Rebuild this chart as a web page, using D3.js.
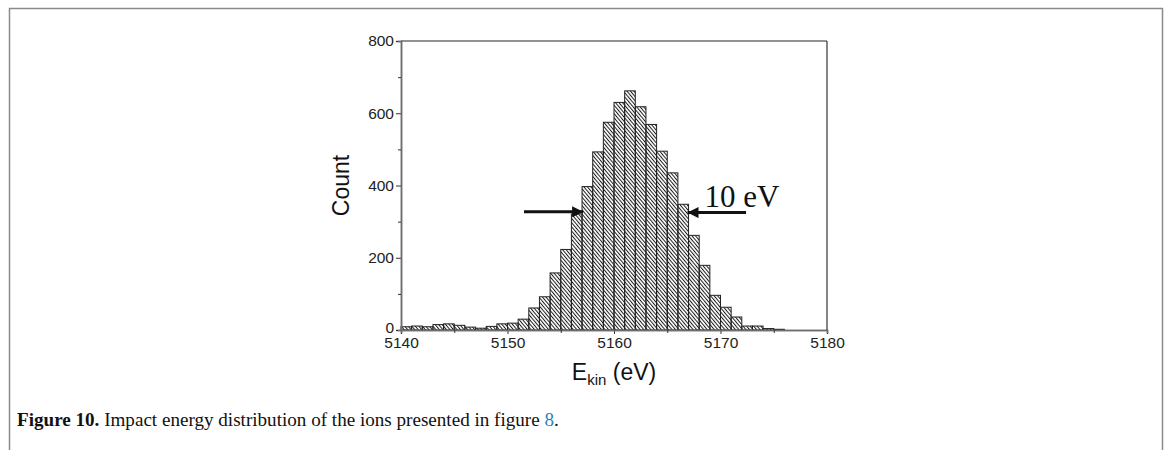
<!DOCTYPE html>
<html><head><meta charset="utf-8">
<script src="https://cdn.jsdelivr.net/npm/d3@7"></script>
<style>
html,body{margin:0;padding:0;background:#fff;}
svg{display:block;}
</style></head>
<body>
<svg id="chart" width="1171" height="450"></svg>
<script>
// ---- data ----
const binStarts = [5140,5141,5142,5143,5144,5145,5146,5147,5148,5149,5150,5151,5152,5153,5154,5155,5156,5157,5158,5159,5160,5161,5162,5163,5164,5165,5166,5167,5168,5169,5170,5171,5172,5173,5174,5175];
const counts    = [9,11,9,15,17,13,8,5,10,17,19,30,61,92,158,223,321,397,493,575,630,662,618,569,495,435,348,262,179,96,63,36,11,11,4,2];
const binWidth = 1;
const xTicks = [5140,5150,5160,5170,5180];
const xMinorTicks = [5145,5155,5165,5175];
const yTicks = [0,200,400,600,800];
const yMinorTicks = [100,300,500,700];
// annotation: FWHM arrows (data coordinates)
const arrowLeft  = {x0:5151.55, x1:5157.1, y:327};
const arrowRight = {x0:5172.4, x1:5166.9, y:325};
const fwhmLabel = {x:5168.5, y:340, text:"10 eV"};

const svg = d3.select("#chart");

// page frame
svg.append("path").attr("d","M9.5,450 V8.5 H1162.5 V450")
  .attr("fill","none").attr("stroke","#8a8a8a").attr("stroke-width",1.5);

const x = d3.scaleLinear().domain([5140,5180]).range([401,827]);
const y = d3.scaleLinear().domain([0,800]).range([330,41]);

// hatch pattern
const defs = svg.append("defs");
const pat = defs.append("pattern").attr("id","hatch").attr("patternUnits","userSpaceOnUse")
  .attr("width",2.7).attr("height",10).attr("patternTransform","rotate(-40)");
pat.append("line").attr("x1",0.5).attr("y1",0).attr("x2",0.5).attr("y2",10)
  .attr("stroke","#1a1a1a").attr("stroke-width",1);

// bars
svg.append("g").selectAll("rect").data(binStarts).join("rect")
  .attr("x",(d)=>x(d))
  .attr("width",(d)=>x(d+binWidth)-x(d))
  .attr("y",(d,i)=>y(counts[i]))
  .attr("height",(d,i)=>y(0)-y(counts[i]))
  .attr("fill","url(#hatch)")
  .attr("stroke","#222").attr("stroke-width",1);

// axes
const axisColor = "#6e6e6e";
const gx = svg.append("g").attr("transform",`translate(0,${y(0)})`)
  .call(d3.axisBottom(x).tickValues(xTicks).tickSize(4).tickPadding(3).tickFormat(d3.format("d")));
const gxm = svg.append("g").attr("transform",`translate(0,${y(0)})`)
  .call(d3.axisBottom(x).tickValues(xMinorTicks).tickSize(3).tickFormat(""));
const gy = svg.append("g").attr("transform",`translate(${x(5140)},0)`)
  .call(d3.axisLeft(y).tickValues(yTicks).tickSize(5).tickPadding(2).tickFormat(d3.format("d")));
const gym = svg.append("g").attr("transform",`translate(${x(5140)},0)`)
  .call(d3.axisLeft(y).tickValues(yMinorTicks).tickSize(3).tickFormat(""));
[gx,gxm,gy,gym].forEach(g=>{
  g.select(".domain").attr("stroke",axisColor).attr("stroke-width",1.5);
  g.selectAll(".tick line").attr("stroke","#333");
  g.selectAll("text").attr("font-family","Liberation Sans, Arial, sans-serif").attr("font-size",15.5).attr("fill","#222");
});
gy.selectAll(".tick").filter(d=>d===0).select("text").attr("dy","0.15em");
// top and right frame of plot
svg.append("line").attr("x1",x(5140)).attr("x2",x(5180)).attr("y1",y(800)).attr("y2",y(800))
  .attr("stroke",axisColor).attr("stroke-width",1.5);
svg.append("line").attr("x1",x(5180)).attr("x2",x(5180)).attr("y1",y(800)).attr("y2",y(0))
  .attr("stroke","#333").attr("stroke-width",1.2);

// axis titles
svg.append("text").attr("transform",`translate(349,${(y(0)+y(800))/2}) rotate(-90)`)
  .attr("text-anchor","middle").attr("font-family","Liberation Sans, Arial, sans-serif")
  .attr("font-size",23).attr("fill","#111").text("Count");
const xl = svg.append("text").attr("x",(x(5140)+x(5180))/2).attr("y",380)
  .attr("text-anchor","middle").attr("font-family","Liberation Sans, Arial, sans-serif")
  .attr("font-size",23).attr("fill","#111");
xl.append("tspan").text("E");
xl.append("tspan").attr("font-size",15).attr("dy",5).text("kin");
xl.append("tspan").attr("dy",-5).text(" (eV)");

// arrows
defs.append("marker").attr("id","ah").attr("viewBox","0 0 10 10").attr("refX",10).attr("refY",5)
  .attr("markerUnits","userSpaceOnUse").attr("markerWidth",16).attr("markerHeight",11)
  .attr("orient","auto").append("path").attr("d","M0,0 L10,5 L0,10 Z").attr("fill","#111");
[arrowLeft,arrowRight].forEach(a=>{
  svg.append("line").attr("x1",x(a.x0)).attr("x2",x(a.x1)).attr("y1",y(a.y)).attr("y2",y(a.y))
    .attr("stroke","#111").attr("stroke-width",3).attr("marker-end","url(#ah)");
});
svg.append("text").attr("x",x(fwhmLabel.x)).attr("y",y(fwhmLabel.y))
  .attr("font-family","Liberation Serif, Times New Roman, serif").attr("font-size",31).attr("fill","#111")
  .text(fwhmLabel.text);

// caption
const cap = svg.append("text").attr("x",17).attr("y",426)
  .attr("font-family","Liberation Serif, Times New Roman, serif").attr("font-size",19.1).attr("fill","#111");
cap.append("tspan").attr("font-weight","bold").text("Figure 10.");
cap.append("tspan").text(" Impact energy distribution of the ions presented in figure ");
cap.append("tspan").attr("fill","#2f7fc1").text("8");
cap.append("tspan").text(".");
</script>
</body></html>
